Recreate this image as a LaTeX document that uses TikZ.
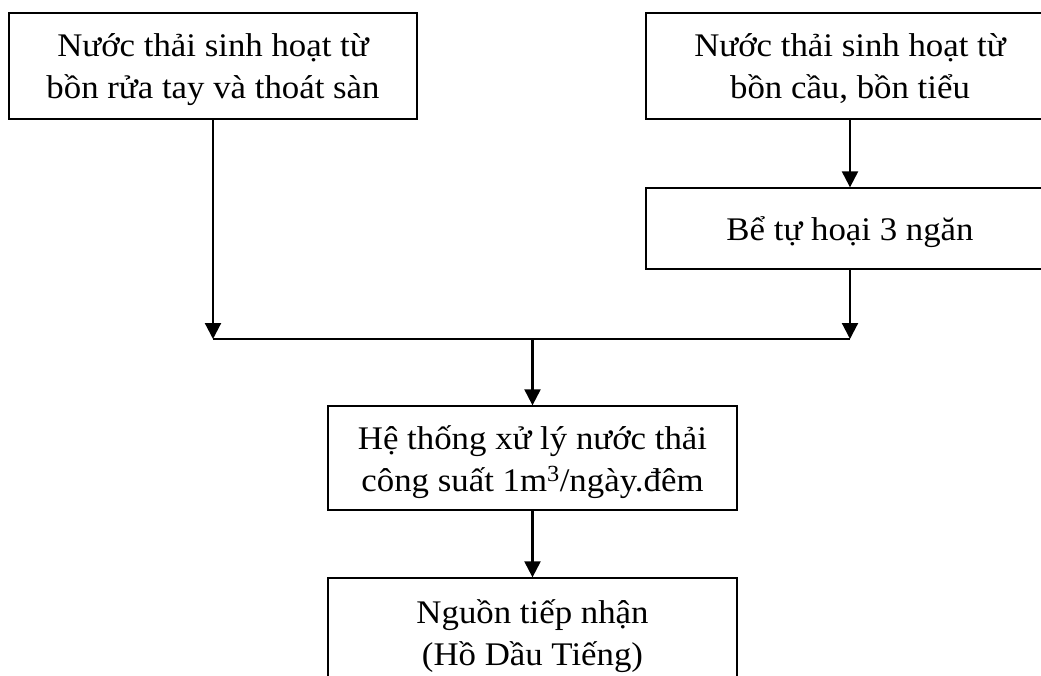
\documentclass[tikz,border=0pt]{standalone}
\usepackage{fontspec}
\setmainfont{Liberation Serif}[FakeStretch=1.055]
\usetikzlibrary{arrows.meta}
% fixed struts: above the first and below the last line of a box text,
% so every text block sits the same way in its box
\newcommand\topstrut{\rule{0pt}{38pt}}
\newcommand\botstrut{\rule[-14pt]{0pt}{14pt}}
\begin{document}
\begin{tikzpicture}[x=1pt, y=-1pt,
  flowbox/.style={draw, line width=1.3pt, inner sep=0pt, align=center,
    font=\fontsize{33}{42}\selectfont, minimum width=408pt},
  flow/.style={line width=2.2pt, -{Triangle[length=16pt,width=16pt]}},
  joint/.style={line width=2pt}]
% page area; boxes running past it are cut at the edge
\clip (0,0) rectangle (1041,676);
\fill[white] (0,0) rectangle (1041,676);

% sources
\node[flowbox, minimum height=106pt] (src1) at (213,66)
  {\topstrut Nước thải sinh hoạt từ\\bồn rửa tay và thoát sàn\botstrut};
\node[flowbox, minimum height=106pt] (src2) at (850,66)
  {\topstrut Nước thải sinh hoạt từ\\bồn cầu, bồn tiểu\botstrut};
\node[flowbox, minimum height=81pt] (tank) at (850,228.5)
  {\topstrut Bể tự hoại 3 ngăn\botstrut};

% treatment and discharge
\node[flowbox, minimum width=409pt, minimum height=104pt] (plant) at (532.5,458)
  {\topstrut Hệ thống xử lý nước thải\\công suất 1m\textsuperscript{3}/ngày.đêm\botstrut};
\node[flowbox, minimum width=409pt, minimum height=108pt] (lake) at (532.5,632)
  {\topstrut Nguồn tiếp nhận\\(Hồ Dầu Tiếng)\botstrut};

% collector line
\coordinate (jl) at (src1.south |- 0,339);
\coordinate (jr) at (tank.south |- 0,339);
\coordinate (jm) at (plant.north |- 0,339);

\draw[flow] (src2) -- (tank);
\draw[flow] (src1.south) -- (jl);
\draw[flow] (tank.south) -- (jr);
\draw[joint] (jl) -- (jr);
\draw[flow] (jm) -- (plant.north);
\draw[flow] (plant) -- (lake);
\end{tikzpicture}
\end{document}
